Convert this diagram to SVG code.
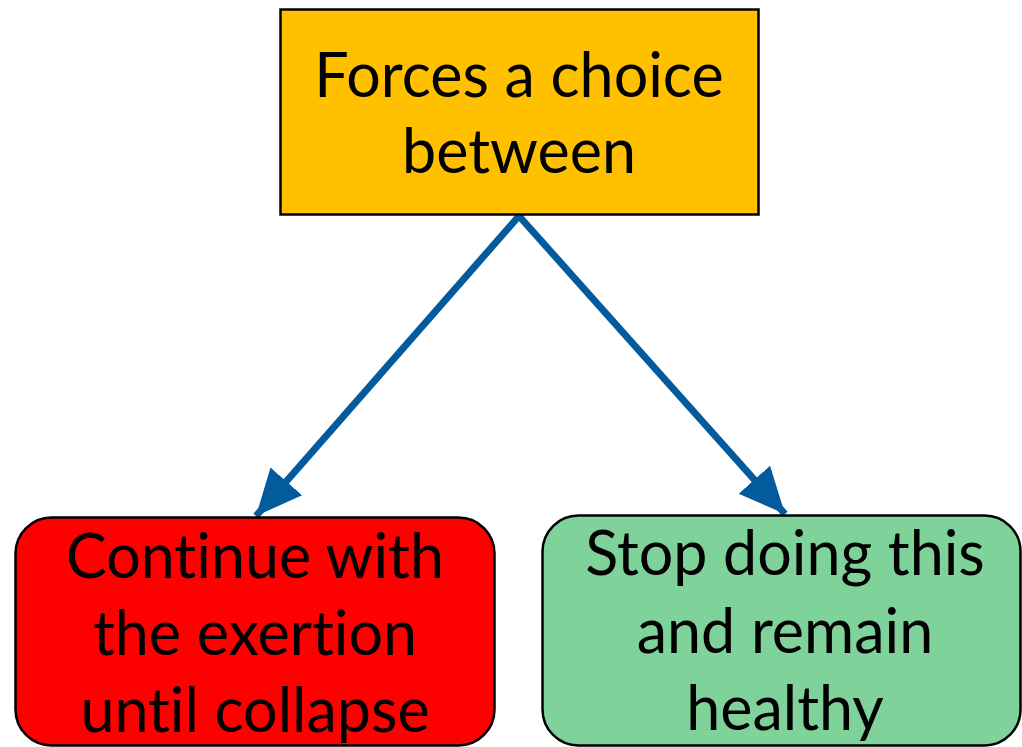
<svg xmlns="http://www.w3.org/2000/svg" width="1022" height="747" viewBox="0 0 1022 747">
  <style>
    .lbl { font-family: Lato, "Open Sans", "Noto Sans", sans-serif; font-size: 61px; fill: #000; text-anchor: middle; font-variant-ligatures: none; }
    .box { stroke: #000; stroke-width: 2.5; }
    .edge { stroke: #035A9C; stroke-width: 7; fill: none; }
  </style>
  <defs>
    <marker id="arrow" markerUnits="userSpaceOnUse" markerWidth="48" markerHeight="48" viewBox="0 0 48 48" refX="46" refY="24" orient="auto">
      <path d="M0,3 L46,24 L0,45 Z" fill="#035A9C"/>
    </marker>
  </defs>
  <rect width="1022" height="747" fill="#fff"/>

  <g id="connectors">
    <line class="edge" x1="519" y1="216" x2="256" y2="516" marker-end="url(#arrow)"/>
    <line class="edge" x1="519" y1="216" x2="785" y2="514" marker-end="url(#arrow)"/>
  </g>

  <g id="choice">
    <rect class="box" x="280.5" y="9.5" width="478" height="205" fill="#FFC000"/>
    <text class="lbl" x="519" y="97">Forces a choice</text>
    <text class="lbl" x="519" y="173">between</text>
  </g>

  <g id="continue">
    <rect class="box" x="15.5" y="517.5" width="479" height="228" rx="36" fill="#FF0000"/>
    <text class="lbl" x="255" y="578">Continue with</text>
    <text class="lbl" x="255" y="655">the exertion</text>
    <text class="lbl" x="255" y="732">until collapse</text>
  </g>

  <g id="stop">
    <rect class="box" x="542.5" y="515.5" width="478" height="230" rx="36" fill="#7ED29A"/>
    <text class="lbl" x="785" y="575">Stop doing this</text>
    <text class="lbl" x="785" y="653">and remain</text>
    <text class="lbl" x="785" y="730">healthy</text>
  </g>
</svg>
